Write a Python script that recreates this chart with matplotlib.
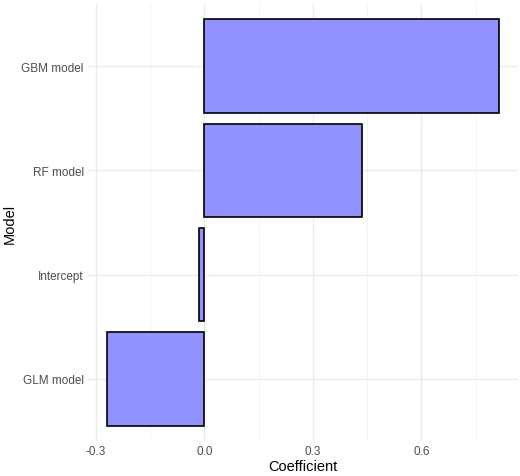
import matplotlib
matplotlib.use("Agg")
import matplotlib.pyplot as plt

plt.rcParams['font.family'] = ['Liberation Sans', 'DejaVu Sans']

models = ["GLM model", "Intercept", "RF model", "GBM model"]
coefs = [-0.268, -0.014, 0.436, 0.814]
xticks = [-0.3, 0.0, 0.3, 0.6]
xticklabels = ["-0.3", "0.0", "0.3", "0.6"]

fig = plt.figure(figsize=(5.2, 4.77), dpi=100)
ax = fig.add_axes([0.169, 0.073, 0.828, 0.917])
ax.barh(range(len(models)), coefs, height=0.9, color="#9191FF",
        edgecolor="black", linewidth=1.2, zorder=3)
ax.set_ylim(-0.6, len(models) - 0.4)
ax.set_xlim(-0.322, 0.868)
ax.set_yticks(range(len(models)))
ax.set_yticklabels(models)
ax.set_xticks(xticks)
ax.set_xticklabels(xticklabels)
ax.set_xticks([-0.15, 0.15, 0.45, 0.75], minor=True)
ax.grid(True, which="major", color="#EBEBEB", linewidth=1.0, zorder=0)
ax.grid(True, which="minor", axis="x", color="#F3F3F3", linewidth=0.6, zorder=0)
for s in ax.spines.values():
    s.set_visible(False)
ax.tick_params(which="both", length=0, labelsize=8.5, colors="#4D4D4D", pad=3)
ax.set_xlabel("Coefficient", fontsize=10.5, labelpad=1)
ax.set_ylabel("Model", fontsize=10.5, labelpad=3)
fig.savefig("out.png", dpi=100, facecolor="white")
